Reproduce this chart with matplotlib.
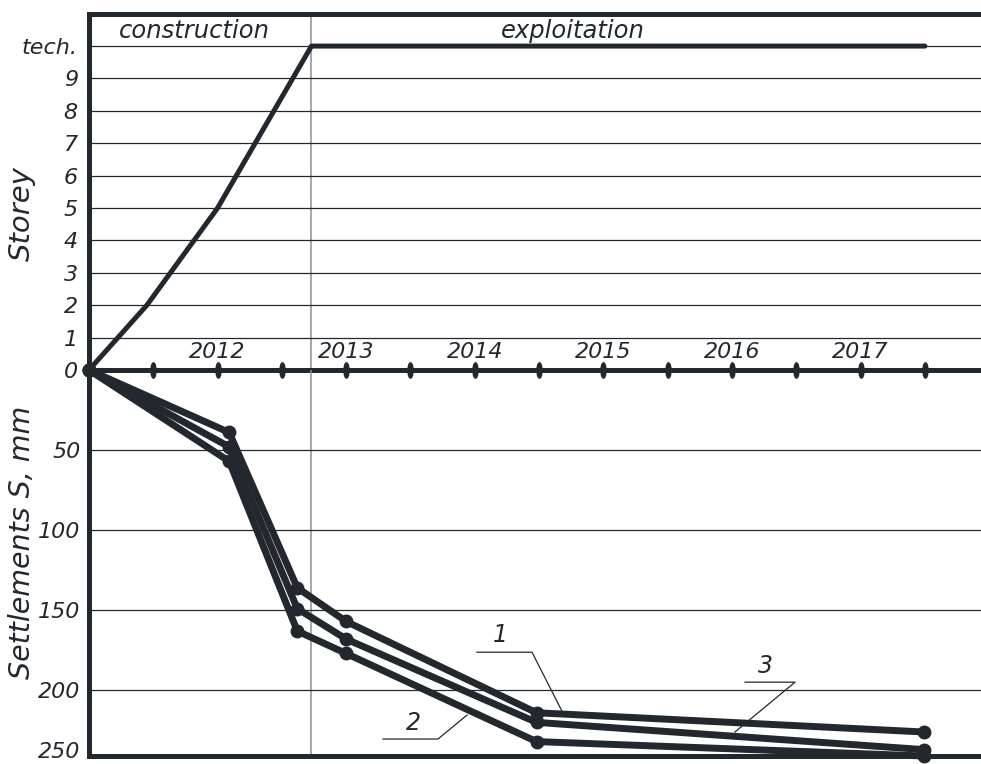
import numpy as np
import matplotlib.pyplot as plt
from matplotlib.path import Path
from matplotlib.transforms import Affine2D, ScaledTranslation

# -------------------------
# Data
# -------------------------
# storey growth (x = decimal year, 10 = "tech." floor)
storey_years = [2011.0, 2011.45, 2012.0, 2012.73, 2017.5]
storey_level = [0, 2, 5, 10, 10]
storey_labels = ["0", "1", "2", "3", "4", "5", "6", "7", "8", "9", "tech."]

# settlements of three marks, mm
settle_years = [2011.0, 2012.09, 2012.62, 2013.0, 2014.48, 2017.49]
settle_1 = [0, 39, 136, 157, 214, 226]
settle_3 = [0, 48, 149, 168, 220, 237]
settle_2 = [0, 57, 163, 177, 232, 241]
settle_ticks = [50, 100, 150, 200, 241]
settle_tick_labels = ["50", "100", "150", "200", "250"]

year_labels = [2012, 2013, 2014, 2015, 2016, 2017]
half_years = np.arange(2011.0, 2017.51, 0.5)
stage_split = 2012.73

ink = "#23282e"
grey = "#8c8f93"
font = dict(family="DejaVu Sans", style="italic", color=ink)

# elongated dot used for the half-year ticks
tick_mark = Affine2D().scale(0.33, 1.0).transform_path(Path.unit_circle())

fig = plt.figure(figsize=(9.81, 7.64), dpi=100)
ax_top = fig.add_axes([0.0907, 0.51571, 0.9093, 0.46597])
ax_bot = fig.add_axes([0.0907, 0.010471, 0.9093, 0.50524])
ax_bot.patch.set_visible(False)

x_right = 2011 + 892 / 128.6

# -------------------------
# Top panel: storeys
# -------------------------
ax_top.set_xlim(2011, x_right)
ax_top.set_ylim(0, 10.99)
ax_top.set_yticks(range(len(storey_labels)))
ax_top.set_yticklabels(storey_labels, fontsize=16, **font)
ax_top.set_xticks([])
ax_top.tick_params(axis="y", length=0, pad=8)
ax_top.grid(axis="y", color=ink, lw=0.9)
ax_top.axvline(stage_split, color=grey, lw=1.1, zorder=1)

ax_top.plot(storey_years, storey_level, color=ink, lw=3.6,
            solid_capstyle="round", zorder=4, clip_on=False)

for yr in year_labels:
    ax_top.annotate(str(yr), (yr, 0), xytext=(0, 6), textcoords="offset points",
                    ha="center", va="bottom", fontsize=16, **font)

ax_top.text(2011.82, 10.46, "construction", ha="center", va="center",
            fontsize=17.5, **font)
ax_top.text(2014.76, 10.46, "exploitation", ha="center", va="center",
            fontsize=17.5, **font)

for side in ["left", "top", "bottom"]:
    ax_top.spines[side].set_linewidth(3.6)
    ax_top.spines[side].set_color(ink)
    ax_top.spines[side].set_zorder(5)
ax_top.spines["right"].set_visible(False)

# -------------------------
# Bottom panel: settlements
# -------------------------
ax_bot.set_xlim(2011, x_right)
ax_bot.set_ylim(241, 0)
ax_bot.set_yticks(settle_ticks)
ax_bot.set_yticklabels(settle_tick_labels, fontsize=16, **font)
ax_bot.set_xticks([])
ax_bot.tick_params(axis="y", length=0, pad=6)
ax_bot.grid(axis="y", color=ink, lw=0.9)
ax_bot.axvline(stage_split, color=grey, lw=1.1, zorder=1)

# last label sits a little above the bottom frame line
last = ax_bot.get_yticklabels()[-1]
last.set_transform(last.get_transform()
                   + ScaledTranslation(0, 4 / 72, fig.dpi_scale_trans))

# zero line with half-year ticks
ax_bot.plot(half_years, np.zeros_like(half_years), ls="none", marker=tick_mark,
            ms=11, color=ink, clip_on=False, zorder=6)

for s in [settle_2, settle_3, settle_1]:
    ax_bot.plot(settle_years, s, color=ink, lw=5, marker="o", ms=9,
                solid_capstyle="round", clip_on=False, zorder=4)

# leaders with curve numbers
leaders = {
    "1": ([2014.017, 2014.445, 2014.678], [176.2, 176.2, 213.0], (2014.20, 173)),
    "3": ([2016.101, 2016.490, 2016.023], [194.9, 194.9, 226.0], (2016.26, 192)),
    "2": ([2013.286, 2013.714, 2013.940], [230.4, 230.4, 215.4], (2013.52, 228)),
}
for name, (lx, ly, pos) in leaders.items():
    ax_bot.plot(lx, ly, color=ink, lw=0.9, zorder=5)
    ax_bot.text(pos[0], pos[1], name, ha="center", va="bottom",
                fontsize=17, **font)

for side in ["left", "bottom"]:
    ax_bot.spines[side].set_linewidth(3.6)
    ax_bot.spines[side].set_color(ink)
ax_bot.spines["top"].set_visible(False)
ax_bot.spines["right"].set_visible(False)

# axis titles placed like in the drawing
fig.text(22 / 981, 1 - 214 / 764, "Storey", rotation=90, ha="center",
         va="center", fontsize=21, **font)
fig.text(22 / 981, 1 - 542 / 764, "Settlements S, mm", rotation=90,
         ha="center", va="center", fontsize=20.5, **font)

fig.savefig("out.png", dpi=100)
